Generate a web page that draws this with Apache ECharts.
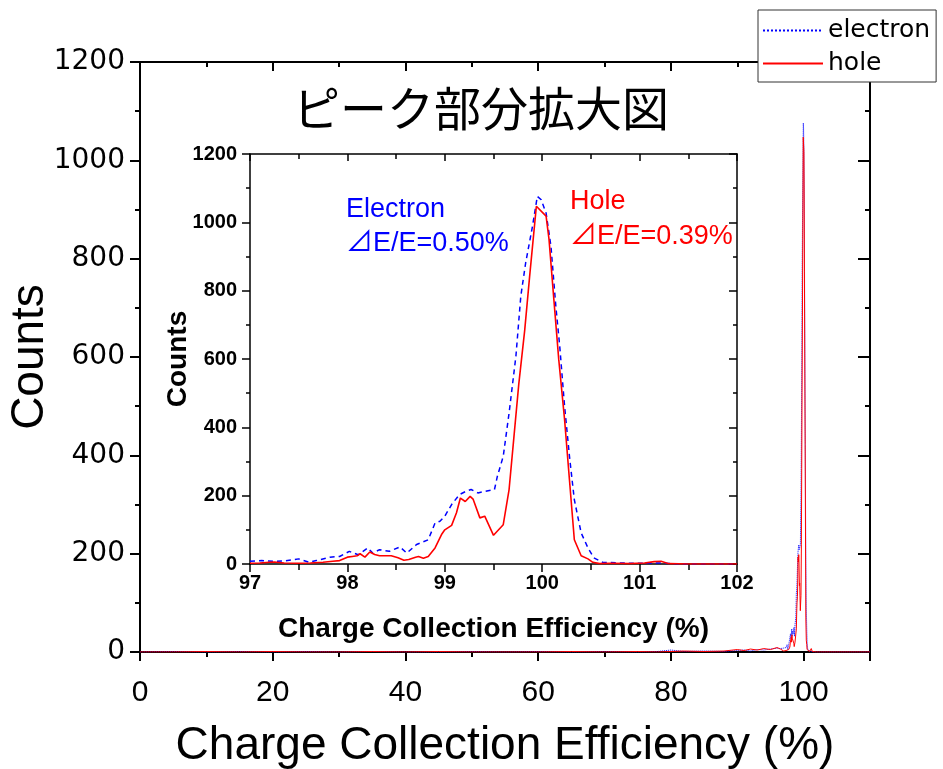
<!DOCTYPE html>
<html>
<head>
<meta charset="utf-8">
<script src="https://cdn.jsdelivr.net/npm/echarts@6/dist/echarts.min.js"></script>
<style>
html, body { margin: 0; padding: 0; background: #fff; }
#chart { width: 943px; height: 769px; }
</style>
</head>
<body>
<div id="chart"></div>
<script>
// Charge collection efficiency spectra for electrons and holes:
// full range (0–110 %) with a magnified view of the peak (97–102 %).

// Peak region, electron signal
const electronCce = [97.00, 97.12, 97.24, 97.36, 97.50, 97.61, 97.68, 97.82, 97.92, 98.02,
  98.11, 98.21, 98.26, 98.33, 98.43, 98.54, 98.61, 98.71, 98.83, 98.90,
  98.95, 99.00, 99.07, 99.15, 99.22, 99.27, 99.34, 99.42, 99.51, 99.54,
  99.60, 99.66, 99.73, 99.78, 99.83, 99.90, 99.95, 99.99, 100.04, 100.09,
  100.14, 100.18, 100.23, 100.28, 100.33, 100.40, 100.47, 100.53, 100.62, 100.80,
  101.00, 101.20, 101.40, 102.00];
const electronCounts = [8, 10, 8, 9, 15, 5, 10, 20, 22, 37,
  27, 47, 32, 42, 37, 50, 32, 57, 71, 120,
  125, 140, 174, 203, 213, 218, 208, 213, 218, 257,
  315, 442, 608, 783, 881, 988, 1076, 1066, 1027, 930,
  754, 637, 461, 315, 188, 91, 47, 18, 5, 3,
  2, 3, 0, 0];

// Peak region, hole signal
const holeCce = [97.00, 97.10, 97.20, 97.25, 97.35, 97.50, 97.62, 97.75, 97.85, 97.92,
  98.00, 98.05, 98.10, 98.13, 98.18, 98.23, 98.28, 98.33, 98.45, 98.52,
  98.58, 98.63, 98.70, 98.73, 98.78, 98.83, 98.90, 98.97, 99.00, 99.07,
  99.12, 99.16, 99.21, 99.26, 99.29, 99.36, 99.41, 99.50, 99.60, 99.66,
  99.71, 99.76, 99.82, 99.87, 99.94, 100.04, 100.07, 100.12, 100.17, 100.23,
  100.28, 100.33, 100.40, 100.47, 100.52, 100.59, 100.70, 100.90, 101.05, 101.15,
  101.22, 101.30, 101.50, 102.00];
const holeCounts = [2, 3, 5, 6, 3, 2, 3, 5, 8, 10,
  20, 22, 24, 30, 20, 35, 28, 24, 24, 18,
  11, 13, 20, 22, 17, 22, 47, 88, 100, 113,
  150, 193, 183, 198, 190, 135, 140, 84, 115, 218,
  373, 528, 683, 839, 1047, 1018, 950, 773, 598, 422,
  246, 71, 24, 15, 5, 1, 2, 1, 3, 7,
  8, 1, 0, 0];

// Low-efficiency tail below the peak region
const tailCce = [0, 5, 10, 15, 20, 25, 30, 35, 40, 45, 50, 55, 60, 65, 70, 75, 78, 80,
  82, 85, 88, 90, 91, 92, 93, 94, 95, 96, 96.5];
const tailElectron = [0, 1, 0, 1, 0, 1, 0, 1, 0, 0, 1, 0, 1, 0, 1, 0, 1, 4,
  1, 2, 1, 3, 4, 2, 5, 4, 6, 8, 7];
const tailHole = [0, 0, 1, 0, 1, 0, 0, 1, 0, 1, 0, 0, 0, 1, 0, 1, 0, 1,
  2, 1, 2, 5, 3, 6, 4, 7, 5, 9, 6];

// Above the peak region
const highCce = [102.5, 105, 110];
const highElectron = [0, 0, 0];
const highHole = [0, 0, 0];

// Axis ranges
const mainX = { min: 0, max: 110, step: 20 };
const mainY = { min: 0, max: 1200, step: 200 };
const zoomX = { min: 97, max: 102, step: 1 };
const zoomY = { min: 0, max: 1200, step: 200 };

const seriesNames = ['electron', 'hole'];
const titleText = 'ピーク部分拡大図';
const axisTitleX = 'Charge Collection Efficiency (%)';
const axisTitleY = 'Counts';
const electronNote = ['Electron', '⊿E/E=0.50%'];
const holeNote = ['Hole', '⊿E/E=0.39%'];

const BLUE = '#0000ff';
const RED = '#ff0000';

function pairs(xs, ys) {
  return xs.map((x, i) => [x, ys[i]]);
}

const electronAll = pairs(tailCce, tailElectron)
  .concat(pairs(electronCce, electronCounts))
  .concat(pairs(highCce, highElectron));
const holeAll = pairs(tailCce, tailHole)
  .concat(pairs(holeCce, holeCounts))
  .concat(pairs(highCce, highHole));

function frameAxis(opts) {
  const lw = opts.lineWidth;
  return {
    type: 'value',
    gridIndex: opts.grid,
    position: opts.position,
    min: opts.range.min,
    max: opts.range.max,
    interval: opts.range.step,
    splitLine: { show: false },
    minorSplitLine: { show: false },
    axisLine: { show: true, onZero: false, lineStyle: { color: '#000', width: lw } },
    axisTick: { show: true, inside: opts.inside, length: opts.tick, lineStyle: { color: '#000', width: lw } },
    minorTick: { show: true, splitNumber: 2, length: opts.minor, lineStyle: { color: '#000', width: lw } },
    axisLabel: opts.label ? opts.label : { show: false },
    name: opts.name || '',
    nameLocation: 'middle',
    nameGap: opts.nameGap || 0,
    nameMoveOverlap: false,
    nameTextStyle: opts.nameStyle || {},
    axisPointer: { show: false }
  };
}

const plain = v => String(v);

const chart = echarts.init(document.getElementById('chart'), null, { renderer: 'canvas' });

const noteFont = '"Liberation Sans", "Noto Sans CJK JP", sans-serif';
const insetFont = '"Liberation Sans Narrow", "Liberation Sans", sans-serif';

chart.setOption({
  animation: false,
  backgroundColor: '#fff',
  grid: [
    { left: 140, top: 62, width: 730, height: 590, outerBoundsMode: 'none', containLabel: false },
    { left: 250, top: 154, width: 487, height: 410, outerBoundsMode: 'none', containLabel: false }
  ],
  xAxis: [
    frameAxis({
      grid: 0, position: 'bottom', range: mainX, lineWidth: 2, inside: false, tick: 9, minor: 5,
      label: {
        fontFamily: 'Liberation Sans', fontSize: 30, color: '#000', margin: 26,
        formatter: v => (v > 100 ? '' : String(v))
      },
      name: axisTitleX, nameGap: 71,
      nameStyle: { fontFamily: 'Liberation Sans', fontSize: 46, color: '#000' }
    }),
    frameAxis({ grid: 0, position: 'top', range: mainX, lineWidth: 2, inside: true, tick: 9, minor: 5 }),
    frameAxis({
      grid: 1, position: 'bottom', range: zoomX, lineWidth: 1.5, inside: false, tick: 8, minor: 6,
      label: { fontFamily: insetFont, fontWeight: 'bold', fontSize: 20, color: '#000', margin: 9, formatter: plain },
      name: axisTitleX, nameGap: 51,
      nameStyle: { fontFamily: insetFont, fontWeight: 'bold', fontSize: 28, color: '#000' }
    }),
    frameAxis({ grid: 1, position: 'top', range: zoomX, lineWidth: 1.5, inside: true, tick: 7, minor: 5 })
  ],
  yAxis: [
    frameAxis({
      grid: 0, position: 'left', range: mainY, lineWidth: 2, inside: false, tick: 10, minor: 5,
      label: { fontFamily: 'DejaVu Sans', fontSize: 28, color: '#000', margin: 15, formatter: plain },
      name: axisTitleY, nameGap: 87,
      nameStyle: { fontFamily: 'Liberation Sans', fontSize: 46, color: '#000' }
    }),
    frameAxis({ grid: 0, position: 'right', range: mainY, lineWidth: 2, inside: true, tick: 12, minor: 5 }),
    frameAxis({
      grid: 1, position: 'left', range: zoomY, lineWidth: 1.5, inside: false, tick: 8, minor: 4,
      label: { fontFamily: insetFont, fontWeight: 'bold', fontSize: 20, color: '#000', margin: 13, formatter: plain },
      name: axisTitleY, nameGap: 58,
      nameStyle: { fontFamily: insetFont, fontWeight: 'bold', fontSize: 28, color: '#000' }
    }),
    frameAxis({ grid: 1, position: 'right', range: zoomY, lineWidth: 1.5, inside: true, tick: 8, minor: 4 })
  ],
  legend: {
    data: seriesNames,
    orient: 'vertical',
    left: 758,
    top: 10,
    padding: [8, 6, 6, 4],
    itemGap: 8,
    itemWidth: 60,
    itemHeight: 24,
    itemTextGap: 11,
    backgroundColor: '#fff',
    borderColor: '#333',
    borderWidth: 1,
    borderRadius: 0,
    z: 10,
    selectedMode: false,
    itemStyle: { opacity: 0 },
    textStyle: { fontFamily: 'DejaVu Sans', fontSize: 25, color: '#000' }
  },
  series: [
    {
      name: seriesNames[0], type: 'line', xAxisIndex: 0, yAxisIndex: 0,
      data: electronAll, symbol: 'none', showSymbol: false,
      lineStyle: { color: BLUE, width: 1, type: 'dotted' }, itemStyle: { color: BLUE }
    },
    {
      name: seriesNames[1], type: 'line', xAxisIndex: 0, yAxisIndex: 0,
      data: holeAll, symbol: 'none', showSymbol: false,
      lineStyle: { color: RED, width: 1 }, itemStyle: { color: RED }
    },
    {
      name: seriesNames[0], type: 'line', xAxisIndex: 2, yAxisIndex: 2,
      data: pairs(electronCce, electronCounts), symbol: 'none', showSymbol: false, clip: true,
      lineStyle: { color: BLUE, width: 1.5, type: [5, 4] }, itemStyle: { color: BLUE }
    },
    {
      name: seriesNames[1], type: 'line', xAxisIndex: 2, yAxisIndex: 2,
      data: pairs(holeCce, holeCounts), symbol: 'none', showSymbol: false, clip: true,
      lineStyle: { color: RED, width: 1.6 }, itemStyle: { color: RED }
    }
  ],
  graphic: [
    {
      type: 'text', z: 20,
      style: {
        text: titleText, x: 481, y: 108, align: 'center', verticalAlign: 'middle',
        fontFamily: '"Noto Sans CJK JP"', fontSize: 47, fill: '#000'
      }
    },
    {
      type: 'text', z: 20,
      style: { text: electronNote[0], x: 346, y: 209.5, verticalAlign: 'middle', fontFamily: noteFont, fontSize: 27, fill: BLUE }
    },
    {
      type: 'text', z: 20,
      style: { text: electronNote[1], x: 346, y: 243.5, verticalAlign: 'middle', fontFamily: noteFont, fontSize: 27, fill: BLUE }
    },
    {
      type: 'text', z: 20,
      style: { text: holeNote[0], x: 570, y: 201.5, verticalAlign: 'middle', fontFamily: noteFont, fontSize: 27, fill: RED }
    },
    {
      type: 'text', z: 20,
      style: { text: holeNote[1], x: 570, y: 236.5, verticalAlign: 'middle', fontFamily: noteFont, fontSize: 27, fill: RED }
    }
  ]
});
</script>
</body>
</html>
